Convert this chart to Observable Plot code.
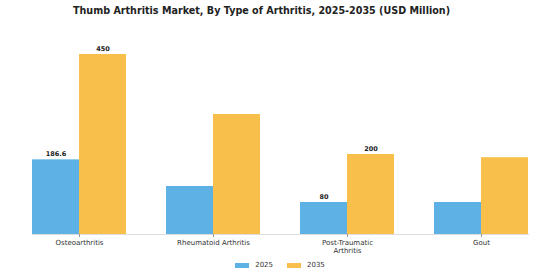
<!DOCTYPE html>
<html>
<head>
<meta charset="utf-8">
<script src="https://cdn.jsdelivr.net/npm/d3@7"></script>
<script src="https://cdn.jsdelivr.net/npm/@observablehq/plot@0.6"></script>
<style>
  body { margin: 0; background: #fff; font-family: "DejaVu Sans", sans-serif; }
  #wrap { width: 560px; height: 280px; position: relative; overflow: hidden; }
  #title { height: 22px; line-height: 22px; text-align: center; font-weight: bold; font-size: 9.6px; color: #222; padding-right: 37px; white-space: nowrap; }
  #legend { position: absolute; left: 0; top: 255px; width: 560px; display: flex; justify-content: center; align-items: center; gap: 14px; font-size: 7px; color: #333; height: 20px; }
  .sw { display: inline-block; width: 14px; height: 5px; margin-right: 6px; vertical-align: middle; }
  .item { display: flex; align-items: center; }
</style>
</head>
<body>
<div id="wrap">
  <div id="title">Thumb Arthritis Market, By Type of Arthritis, 2025-2035 (USD Million)</div>
  <div id="chart"></div>
  <div id="legend"></div>
</div>
<script>
const categories = ["Osteoarthritis", "Rheumatoid Arthritis", "Post-Traumatic Arthritis", "Gout"];
const series = ["2025", "2035"];
const values2025 = [186.6, 120, 80, 80];
const values2035 = [450, 300, 200, 192];
const labels2025 = ["186.6", null, "80", null];
const labels2035 = ["450", null, "200", null];
const colors = ["#5DB1E4", "#F8C04A"];

const rows = [];
categories.forEach((c, i) => {
  rows.push({category: c, year: series[0], value: values2025[i], label: labels2025[i]});
  rows.push({category: c, year: series[1], value: values2035[i], label: labels2035[i]});
});
const labelled = rows.filter(d => d.label != null);

const chart = Plot.plot({
  width: 560,
  height: 234,
  marginTop: 32,
  marginBottom: 22,
  marginLeft: 10,
  marginRight: 10,
  style: {fontFamily: "DejaVu Sans, sans-serif", background: "#fff", overflow: "visible"},
  fx: {domain: categories, paddingInner: 0.3, paddingOuter: 0.16, label: null, axis: null},
  x: {domain: series, padding: 0, axis: null},
  y: {domain: [0, 450], axis: null},
  color: {domain: series, range: colors},
  marks: [
    Plot.barY(rows, {fx: "category", x: "year", y: "value", fill: "year"}),
    Plot.frame({anchor: "bottom", stroke: "#ddd", strokeWidth: 1, facet: "super"}),
    Plot.text(labelled, {fx: "category", x: "year", y: "value", text: "label", dy: -6, fontWeight: "bold", fontSize: 6.5, fill: "#222"}),
    Plot.axisFx({anchor: "bottom", label: null, tickSize: 3, tickPadding: 2, stroke: "#999", fontSize: 7, fill: "#333", lineHeight: 1.1,
      tickFormat: d => d === "Post-Traumatic Arthritis" ? "Post-Traumatic\nArthritis" : d})
  ]
});
document.getElementById("chart").appendChild(chart);

const legend = document.getElementById("legend");
series.forEach((s, i) => {
  const item = document.createElement("div");
  item.className = "item";
  item.innerHTML = `<span class="sw" style="background:${colors[i]}"></span><span>${s}</span>`;
  legend.appendChild(item);
});
</script>
</body>
</html>
